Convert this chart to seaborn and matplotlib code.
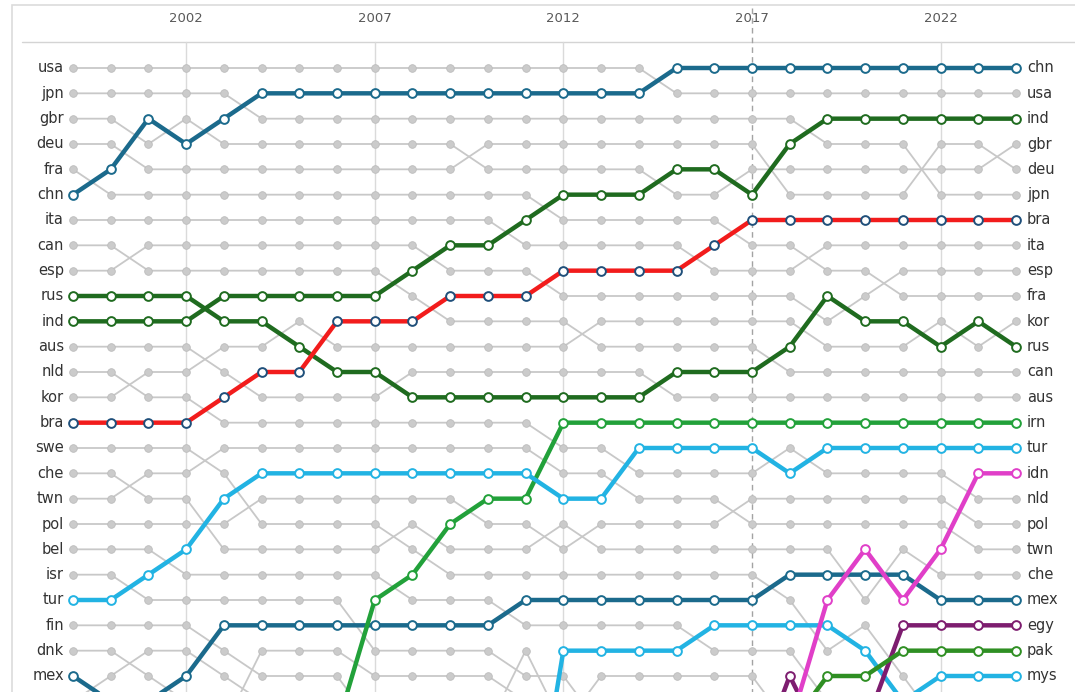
import numpy as np
import matplotlib
matplotlib.use("Agg")
import matplotlib.pyplot as plt
import seaborn as sns

N = np.nan

years = [1999, 2000, 2001, 2002, 2003, 2004, 2005, 2006, 2007, 2008, 2009, 2010, 2011,
         2012, 2013, 2014, 2015, 2016, 2017, 2018, 2019, 2020, 2021, 2022, 2023, 2024]
tick_years = [2002, 2007, 2012, 2017, 2022]

# rank per year, 1999 -> 2024 (values > 25 fall below the visible area)
usa = [1, 1, 1, 1, 1, 1, 1, 1, 1, 1, 1, 1, 1, 1, 1, 1, 2, 2, 2, 2, 2, 2, 2, 2, 2, 2]
jpn = [2, 2, 2, 2, 2, 3, 3, 3, 3, 3, 3, 3, 3, 3, 3, 3, 3, 3, 3, 3, 4, 4, 4, 6, 6, 6]
gbr = [3, 3, 4, 3, 4, 4, 4, 4, 4, 4, 4, 5, 5, 5, 5, 5, 6, 6, 5, 5, 5, 5, 5, 5, 5, 4]
deu = [4, 4, 5, 5, 5, 5, 5, 5, 5, 5, 5, 4, 4, 4, 4, 4, 4, 4, 4, 6, 6, 6, 6, 4, 4, 5]
fra = [5, 6, 6, 6, 6, 6, 6, 6, 6, 6, 6, 6, 6, 7, 7, 7, 7, 7, 8, 8, 9, 9, 10, 10, 10, 10]
ita = [7, 7, 7, 7, 7, 7, 7, 7, 7, 7, 7, 7, 8, 8, 8, 8, 8, 9, 9, 9, 8, 8, 8, 8, 8, 8]
can = [8, 8, 9, 9, 9, 9, 9, 9, 9, 10, 11, 11, 11, 11, 12, 12, 12, 12, 12, 13, 13, 13, 13, 13, 13, 13]
esp = [9, 9, 8, 8, 8, 8, 8, 8, 8, 8, 9, 9, 9, 10, 10, 10, 10, 10, 10, 10, 11, 10, 9, 9, 9, 9]
aus = [12, 12, 12, 12, 13, 14, 14, 14, 14, 13, 13, 13, 13, 13, 13, 13, 14, 14, 14, 14, 14, 14, 14, 14, 14, 14]
kor = [14, 14, 13, 13, 12, 12, 11, 12, 12, 12, 12, 12, 12, 12, 11, 11, 11, 11, 11, 11, 12, 12, 12, 11, 12, 11]
nld = [13, 13, 14, 14, 15, 15, 15, 15, 15, 15, 15, 15, 15, 16, 16, 17, 17, 17, 17, 16, 17, 17, 17, 17, 18, 18]
twn = [18, 18, 17, 17, 16, 16, 16, 16, 16, 16, 16, 16, 16, 17, 17, 18, 18, 18, 19, 19, 19, 19, 19, 19, 20, 20]
swe = [16, 16, 16, 16, 17, 19, 19, 19, 19, 20, 21, 21, 21, 21, 21, 21, 21, 21, 21, 22, 24, 23, 25, 27, N, N]
che = [17, 17, 18, 18, 20, 20, 20, 20, 20, 19, 20, 20, 20, 19, 20, 20, 20, 20, 20, 20, 20, 22, 20, 21, 21, 21]
pol = [19, 19, 19, 19, 19, 18, 18, 18, 18, 18, 18, 19, 19, 20, 19, 19, 19, 19, 18, 18, 18, 18, 18, 18, 19, 19]
bel = [20, 20, 20, 21, 21, 21, 21, 21, 21, 22, 22, 22, 23, 23, 23, 23, 23, 24, 24, 24, 26, N, N, N, N, N]
isr = [21, 21, 22, 22, 22, 22, 22, 22, 24, 24, 24, 24, 25, 25, 27, N, N, N, N, N, N, N, N, N, N, N]
fin = [23, 23, 23, 23, 24, 25, 25, 25, 27, N, N, N, N, N, N, N, N, N, N, N, N, N, N, N, N, N]
dnk = [24, 24, 25, 26, N, N, N, N, N, N, N, N, N, N, N, N, N, N, N, N, N, N, N, N, N, N]
aut = [26, 25, 24, 24, 25, 26, N, N, N, N, N, N, N, N, N, N, N, N, N, N, N, N, N, N, N, N]
nor = [N, N, N, N, 27, 24, 24, 24, 25, 25, 25, 25, 26, N, N, N, N, N, N, N, N, N, N, N, N, N]
prt = [N, N, N, N, N, N, N, N, N, N, N, 27, 24, 27, N, N, N, N, N, N, N, N, N, N, N, N]
sgp = [N, N, N, N, N, N, N, N, N, N, N, N, N, 27, 25, 25, 25, 25, 25, 27, N, N, N, N, N, N]

chn = [6, 5, 3, 4, 3, 2, 2, 2, 2, 2, 2, 2, 2, 2, 2, 2, 1, 1, 1, 1, 1, 1, 1, 1, 1, 1]
ind = [11, 11, 11, 11, 10, 10, 10, 10, 10, 9, 8, 8, 7, 6, 6, 6, 5, 5, 6, 4, 3, 3, 3, 3, 3, 3]
bra = [15, 15, 15, 15, 14, 13, 13, 11, 11, 11, 10, 10, 10, 9, 9, 9, 9, 8, 7, 7, 7, 7, 7, 7, 7, 7]
rus = [10, 10, 10, 10, 11, 11, 12, 13, 13, 14, 14, 14, 14, 14, 14, 14, 13, 13, 13, 12, 10, 11, 11, 12, 11, 12]
irn = [N, N, N, N, N, N, N, 27, 22, 21, 19, 18, 18, 15, 15, 15, 15, 15, 15, 15, 15, 15, 15, 15, 15, 15]
tur = [22, 22, 21, 20, 18, 17, 17, 17, 17, 17, 17, 17, 17, 18, 18, 16, 16, 16, 16, 17, 16, 16, 16, 16, 16, 16]
mex = [25, 26, 26, 25, 23, 23, 23, 23, 23, 23, 23, 23, 22, 22, 22, 22, 22, 22, 22, 21, 21, 21, 21, 22, 22, 22]
mys = [N, N, N, N, N, N, N, N, N, N, N, N, 33, 24, 24, 24, 24, 23, 23, 23, 23, 24, 26, 25, 25, 25]
idn = [N, N, N, N, N, N, N, N, N, N, N, N, N, N, N, N, N, N, N, 27, 22, 20, 22, 20, 17, 17]
egy = [N, N, N, N, N, N, N, N, N, N, N, N, N, N, N, N, N, N, 29, 25, 28, 27, 23, 23, 23, 23]
pak = [N, N, N, N, N, N, N, N, N, N, N, N, N, N, N, N, N, N, N, 27, 25, 25, 24, 24, 24, 24]

grey_countries = {"usa": usa, "jpn": jpn, "gbr": gbr, "deu": deu, "fra": fra, "ita": ita,
                  "can": can, "esp": esp, "aus": aus, "kor": kor, "nld": nld, "twn": twn,
                  "swe": swe, "che": che, "pol": pol, "bel": bel, "isr": isr, "fin": fin,
                  "dnk": dnk, "aut": aut, "nor": nor, "prt": prt, "sgp": sgp}

# country: (ranks, line colour, marker edge colour)
highlighted = {
    "mex": (mex, "#1b6a8c", "#1b6a8c"),
    "chn": (chn, "#1b6a8c", "#1b6a8c"),
    "rus": (rus, "#1f6b1f", "#1f6b1f"),
    "ind": (ind, "#1f6b1f", "#1f6b1f"),
    "bra": (bra, "#f21c1c", "#1f4f7a"),
    "irn": (irn, "#22a13a", "#22a13a"),
    "tur": (tur, "#22b3e3", "#22b3e3"),
    "mys": (mys, "#22b3e3", "#22b3e3"),
    "egy": (egy, "#7d1d6f", "#7d1d6f"),
    "pak": (pak, "#2f8f23", "#2f8f23"),
    "idn": (idn, "#e03fc8", "#e03fc8"),
}

sns.set_style("white")
plt.rcParams["font.family"] = ["DejaVu Sans"]

W, H = 1075, 692
fig = plt.figure(figsize=(W / 100, H / 100), dpi=100)
ax = fig.add_axes([0, 0, 1, 1])

# pixel layout -> data coordinates
px_per_year = (1016 - 73) / 25
px_per_rank = (676 - 68) / 24
x0 = 1999 - 73 / px_per_year
x1 = 1999 + (W - 73) / px_per_year
y_top = 1 - 68 / px_per_rank
y_bot = 1 + (H - 68) / px_per_rank


def yr(py):
    return 1 + (py - 68) / px_per_rank


def xr(px):
    return 1999 + (px - 73) / px_per_year


# frame, header line and year gridlines
fig.patches.append(plt.Rectangle((12 / W, -0.05), 1.2, 1.05 - 5 / H, transform=fig.transFigure,
                                 fill=False, edgecolor="#dcdcdc", lw=1.2))
ax.plot([xr(22), x1], [yr(42), yr(42)], color="#d4d4d4", lw=1.0, zorder=1)
for t in tick_years:
    if t == 2017:
        ax.plot([t, t], [yr(8), y_bot], color="#a3a3a3", lw=1.0, ls=(0, (4, 3)), zorder=1)
    else:
        ax.plot([t, t], [yr(42), y_bot], color="#dadada", lw=1.0, zorder=1)
    ax.text(t, yr(19), str(t), ha="center", va="center", fontsize=9.5, color="#595959")

# grey background lines
for name, vals in grey_countries.items():
    sns.lineplot(x=years, y=vals, ax=ax, color="#c8c8c8", lw=1.3, marker="o", markersize=5.5,
                 markerfacecolor="#cbcbcb", markeredgecolor="#bcbcbc", markeredgewidth=0.6,
                 zorder=2, legend=False)

# highlighted countries
for i, (name, (vals, col, edge)) in enumerate(highlighted.items()):
    sns.lineplot(x=years, y=vals, ax=ax, color=col, lw=3.2, marker="o", markersize=6.3,
                 markerfacecolor="white", markeredgecolor=edge, markeredgewidth=1.4,
                 zorder=3 + i, legend=False)

# left / right labels
all_countries = dict(grey_countries)
for name, (vals, col, edge) in highlighted.items():
    all_countries[name] = vals
for name, vals in all_countries.items():
    if vals[0] <= 25:
        ax.text(xr(64), vals[0], name, ha="right", va="center", fontsize=10.5, color="#333333")
    if vals[-1] <= 25:
        ax.text(xr(1027), vals[-1], name, ha="left", va="center", fontsize=10.5, color="#333333")

ax.set_xlim(x0, x1)
ax.set_ylim(y_bot, y_top)
ax.axis("off")

fig.savefig("out.png", dpi=100)
